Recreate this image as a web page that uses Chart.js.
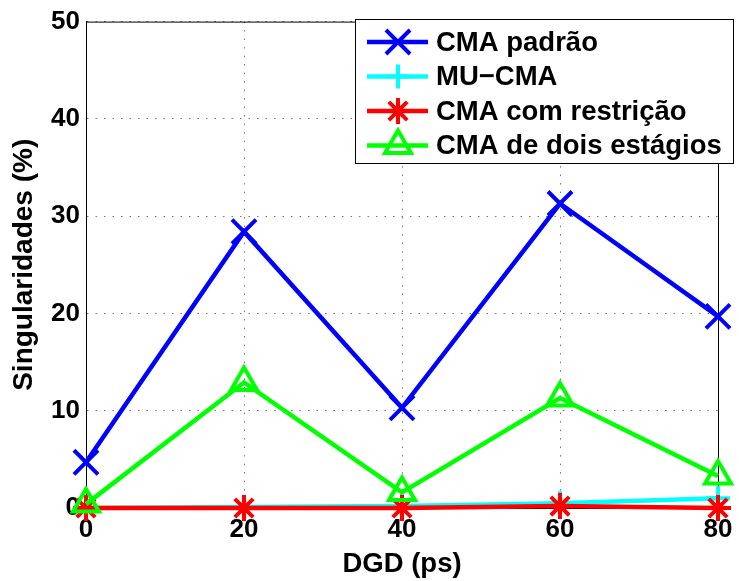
<!DOCTYPE html>
<html>
<head>
<meta charset="utf-8">
<script src="https://cdn.jsdelivr.net/npm/chart.js@4"></script>
<style>
  html, body { margin: 0; padding: 0; background: #fff; }
  #wrap { width: 739px; height: 581px; }
</style>
</head>
<body>
<div id="wrap"><canvas id="chart" width="739" height="581"></canvas></div>
<script>
let dgd = [0, 20, 40, 60, 80];
let cmaPadrao = [4.7, 28.4, 10.3, 31.3, 19.7];
let muCma = [0.0, 0.1, 0.2, 0.5, 1.0];
let cmaRestricao = [0.0, 0.0, 0.0, 0.2, 0.0];
let cmaDoisEstagios = [0.4, 12.9, 1.6, 11.3, 3.3];

let seriesNames = ["CMA padrão", "MU−CMA", "CMA com restrição", "CMA de dois estágios"];
let seriesColors = ["#0000ff", "#00ffff", "#ff0000", "#00ff00"];
let seriesMarkers = ["crossRot", "cross", "star", "triangle"];
let markerSizes = [17, 12, 13, 15];

let font = "'Liberation Sans', Arial, Helvetica, sans-serif";

function pts(ys) {
  return ys.map((y, i) => ({ x: dgd[i], y: y }));
}

let allSeries = [cmaPadrao, muCma, cmaRestricao, cmaDoisEstagios];

let datasets = allSeries.map((ys, i) => ({
  label: seriesNames[i],
  data: pts(ys),
  borderColor: seriesColors[i],
  backgroundColor: "rgba(0,0,0,0)",
  borderWidth: 4.5,
  pointStyle: seriesMarkers[i],
  pointRadius: markerSizes[i],
  pointBorderWidth: 4,
  pointBorderColor: seriesColors[i],
  pointBackgroundColor: "rgba(0,0,0,0)",
  tension: 0,
  clip: false,
  order: 4 - i,
}));

// matlab style legend box + box around axes
let matlabLegend = {
  id: "matlabLegend",
  beforeDatasetsDraw(chart) {
    let ctx = chart.ctx;
    let a = chart.chartArea;
    ctx.save();
    ctx.strokeStyle = "#000";
    ctx.lineWidth = 1;
    ctx.setLineDash([]);
    ctx.strokeRect(a.left + 0.5, a.top + 0.5, a.right - a.left, a.bottom - a.top);
    ctx.restore();
  },
  afterDraw(chart) {
    let ctx = chart.ctx;
    ctx.save();
    ctx.setLineDash([]);
    let bx = 355, by = 19, bw = 378, bh = 144;
    ctx.fillStyle = "#fff";
    ctx.fillRect(bx, by, bw, bh);
    ctx.strokeStyle = "#000";
    ctx.lineWidth = 1;
    ctx.strokeRect(bx + 0.5, by + 0.5, bw, bh);

    ctx.font = "bold 27.5px " + font;
    ctx.textBaseline = "middle";
    chart.data.datasets.forEach((ds, i) => {
      let cy = 42 + i * 34.5;
      ctx.strokeStyle = ds.borderColor;
      ctx.lineWidth = 4.5;
      ctx.beginPath();
      ctx.moveTo(367, cy);
      ctx.lineTo(428, cy);
      ctx.stroke();
      ctx.fillStyle = "rgba(0,0,0,0)";
      ctx.lineWidth = 4;
      Chart.helpers.drawPoint(ctx, {
        pointStyle: ds.pointStyle,
        radius: ds.pointRadius,
        borderWidth: 4,
        rotation: 0,
      }, 398, cy);
      ctx.fillStyle = "#000";
      ctx.fillText(ds.label, 436, cy + 1);
    });
    ctx.restore();
  },
};

let gridOpts = {
  color: "#777",
  drawTicks: false,
  lineWidth: 1,
};

new Chart("chart", {
  type: "line",
  data: { datasets: datasets },
  plugins: [matlabLegend],
  options: {
    responsive: false,
    animation: false,
    layout: { padding: { top: 20, right: 19, left: 0, bottom: 0 } },
    plugins: {
      legend: { display: false },
      tooltip: { enabled: false },
    },
    scales: {
      x: {
        type: "linear",
        min: 0,
        max: 80,
        afterBuildTicks(scale) {
          scale.ticks = dgd.map(v => ({ value: v }));
        },
        grid: gridOpts,
        border: { color: "#000", width: 1, dash: [1.5, 7] },
        ticks: {
          color: "#000",
          padding: 6,
          maxRotation: 0,
          font: { family: font, size: 26, weight: "bold" },
        },
        title: {
          display: true,
          text: "DGD (ps)",
          color: "#000",
          padding: { top: 0, bottom: 0 },
          font: { family: font, size: 27.5, weight: "bold" },
        },
        afterFit(scale) { scale.height = 73; },
      },
      y: {
        min: 0,
        max: 50,
        ticks: {
          stepSize: 10,
          color: "#000",
          padding: 6,
          font: { family: font, size: 26, weight: "bold" },
        },
        grid: gridOpts,
        border: { color: "#000", width: 1, dash: [1.5, 7] },
        title: {
          display: true,
          text: "Singularidades (%)",
          color: "#000",
          padding: { top: 7, bottom: 4 },
          font: { family: font, size: 28, weight: "bold" },
        },
        afterFit(scale) { scale.width = 86; },
      },
    },
  },
});
</script>
</body>
</html>
